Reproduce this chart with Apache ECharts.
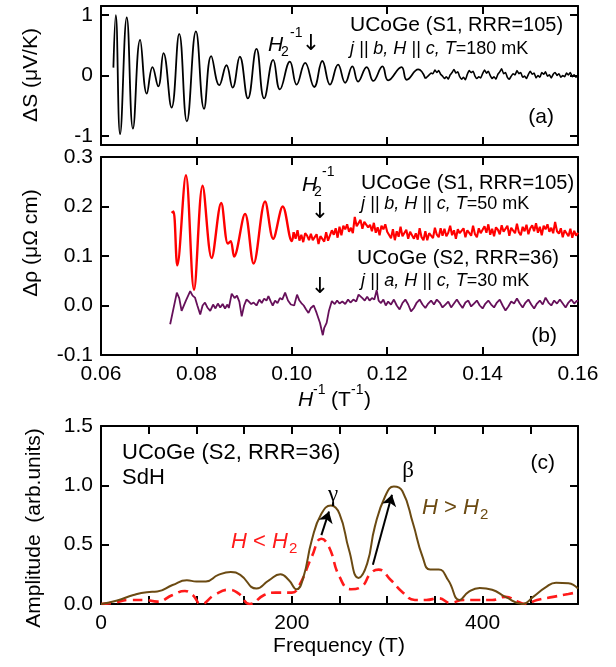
<!DOCTYPE html>
<html>
<head>
<meta charset="utf-8">
<script src="https://cdn.jsdelivr.net/npm/echarts@6/dist/echarts.min.js"></script>
<style>html,body{margin:0;padding:0;background:#fff}#c{width:616px;height:667px}</style>
</head>
<body>
<div id="c"></div>
<script>
// ---------- DATA ----------
// Panel (a): Seebeck oscillations, x = H^-1 (1/T), y = ΔS (μV/K)
const seebeckS1 = [[0.0626,0.13],[0.0631,1.00],[0.0640,-0.97],[0.0654,0.96],[0.0667,-0.88],[0.0682,0.59],[0.0696,-0.30],[0.0708,0.14],[0.0720,-0.18],[0.0731,0.37],[0.0748,-0.53],[0.0764,0.69],[0.0780,-0.76],[0.0799,0.73],[0.0816,-0.55],[0.0831,0.32],[0.0848,-0.16],[0.0863,0.17],[0.0876,-0.20],[0.0891,0.31],[0.0908,-0.38],[0.0926,0.44],[0.0942,-0.38],[0.0961,0.26],[0.0975,-0.23],[0.0996,0.23],[0.1010,-0.15],[0.1028,0.21],[0.1047,-0.19],[0.1064,0.24],[0.1080,-0.15],[0.1097,0.18],[0.1112,-0.12],[0.1127,0.15],[0.1139,-0.10],[0.1157,0.14],[0.1171,-0.09],[0.1190,0.15],[0.1202,-0.08],[0.1230,0.14],[0.1241,-0.07],[0.1265,0.10],[0.1280,-0.05]];
const seebeckS1Tail = [[0.1280,-0.05],[0.1284,-0.02],[0.1288,0.01],[0.1292,0.04],[0.1296,0.03],[0.1300,0.09],[0.1304,0.05],[0.1308,0.08],[0.1312,0.02],[0.1316,-0.01],[0.1320,-0.05],[0.1324,-0.02],[0.1328,-0.06],[0.1332,0.01],[0.1336,0.05],[0.1340,0.10],[0.1344,0.04],[0.1348,0.06],[0.1352,-0.02],[0.1356,-0.06],[0.1360,-0.03],[0.1364,-0.07],[0.1368,0.02],[0.1372,0.08],[0.1376,0.05],[0.1380,0.07],[0.1384,-0.01],[0.1388,-0.05],[0.1392,-0.02],[0.1396,-0.04],[0.1400,0.03],[0.1404,0.09],[0.1408,0.04],[0.1412,0.07],[0.1416,0.00],[0.1420,-0.05],[0.1424,-0.02],[0.1428,-0.06],[0.1432,0.02],[0.1436,0.06],[0.1440,0.11],[0.1444,0.03],[0.1448,0.05],[0.1452,-0.03],[0.1456,-0.06],[0.1460,-0.01],[0.1464,0.03],[0.1468,0.01],[0.1472,0.08],[0.1476,0.03],[0.1480,0.05],[0.1484,-0.03],[0.1488,-0.01],[0.1492,-0.05],[0.1496,0.02],[0.1500,0.07],[0.1504,0.02],[0.1508,0.04],[0.1512,-0.04],[0.1516,0.00],[0.1520,-0.03],[0.1524,0.05],[0.1528,0.02],[0.1532,0.06],[0.1536,-0.01],[0.1540,0.01],[0.1544,-0.04],[0.1548,0.02],[0.1552,0.05],[0.1556,0.00],[0.1560,0.03],[0.1564,-0.03],[0.1568,0.00],[0.1572,-0.02],[0.1576,0.04],[0.1580,0.01],[0.1584,0.05],[0.1588,-0.02],[0.1592,0.01],[0.1596,-0.03],[0.1600,0.01]];

// Panel (b): resistivity, x = H^-1 (1/T), y = Δρ (μΩ cm)
const rhoS1 = [[0.0748,0.187],[0.0752,0.190],[0.0760,0.081],[0.0778,0.263],[0.0795,0.032],[0.0813,0.242],[0.0832,0.096],[0.0852,0.207],[0.0866,0.125],[0.0872,0.130],[0.0879,0.099],[0.0902,0.185],[0.0920,0.085],[0.0944,0.210],[0.0961,0.135],[0.0981,0.200],[0.1000,0.130],[0.1004,0.148]];
const rhoS1Tail = [[0.1004,0.148],[0.1008,0.135],[0.1012,0.152],[0.1016,0.131],[0.1020,0.143],[0.1024,0.128],[0.1028,0.146],[0.1032,0.141],[0.1036,0.132],[0.1040,0.145],[0.1044,0.132],[0.1048,0.128],[0.1052,0.144],[0.1056,0.124],[0.1060,0.140],[0.1064,0.137],[0.1068,0.129],[0.1072,0.148],[0.1076,0.131],[0.1080,0.135],[0.1084,0.152],[0.1088,0.143],[0.1092,0.156],[0.1096,0.137],[0.1100,0.159],[0.1104,0.142],[0.1108,0.161],[0.1112,0.154],[0.1116,0.164],[0.1120,0.149],[0.1124,0.157],[0.1128,0.146],[0.1132,0.179],[0.1136,0.160],[0.1140,0.162],[0.1144,0.173],[0.1148,0.155],[0.1152,0.169],[0.1156,0.172],[0.1160,0.158],[0.1164,0.163],[0.1168,0.150],[0.1172,0.167],[0.1176,0.147],[0.1180,0.158],[0.1184,0.142],[0.1188,0.161],[0.1192,0.154],[0.1196,0.164],[0.1200,0.149],[0.1204,0.147],[0.1208,0.136],[0.1212,0.154],[0.1216,0.132],[0.1220,0.150],[0.1224,0.139],[0.1228,0.159],[0.1232,0.140],[0.1236,0.142],[0.1240,0.153],[0.1244,0.135],[0.1248,0.149],[0.1252,0.151],[0.1256,0.135],[0.1260,0.146],[0.1264,0.133],[0.1268,0.156],[0.1272,0.138],[0.1276,0.132],[0.1280,0.150],[0.1284,0.132],[0.1288,0.146],[0.1292,0.149],[0.1296,0.136],[0.1300,0.157],[0.1304,0.143],[0.1308,0.138],[0.1312,0.156],[0.1316,0.141],[0.1320,0.155],[0.1324,0.140],[0.1328,0.147],[0.1332,0.161],[0.1336,0.142],[0.1340,0.152],[0.1344,0.135],[0.1348,0.154],[0.1352,0.146],[0.1356,0.145],[0.1360,0.156],[0.1364,0.138],[0.1368,0.152],[0.1372,0.155],[0.1376,0.141],[0.1380,0.161],[0.1384,0.144],[0.1388,0.138],[0.1392,0.156],[0.1396,0.146],[0.1400,0.150],[0.1404,0.160],[0.1408,0.147],[0.1412,0.164],[0.1416,0.143],[0.1420,0.155],[0.1424,0.140],[0.1428,0.158],[0.1432,0.153],[0.1436,0.144],[0.1440,0.162],[0.1444,0.149],[0.1448,0.145],[0.1452,0.161],[0.1456,0.141],[0.1460,0.157],[0.1464,0.154],[0.1468,0.146],[0.1472,0.165],[0.1476,0.148],[0.1480,0.142],[0.1484,0.159],[0.1488,0.150],[0.1492,0.163],[0.1496,0.144],[0.1500,0.156],[0.1504,0.162],[0.1508,0.150],[0.1512,0.166],[0.1516,0.147],[0.1520,0.159],[0.1524,0.142],[0.1528,0.161],[0.1532,0.154],[0.1536,0.164],[0.1540,0.149],[0.1544,0.157],[0.1548,0.146],[0.1552,0.169],[0.1556,0.150],[0.1560,0.145],[0.1564,0.156],[0.1568,0.138],[0.1572,0.152],[0.1576,0.155],[0.1580,0.140],[0.1584,0.155],[0.1588,0.137],[0.1592,0.151],[0.1596,0.141],[0.1600,0.147]];

const rhoS2 = [[0.0745,-0.038],[0.0759,0.026],[0.0764,0.015],[0.0769,-0.011],[0.0778,0.010],[0.0787,0.029],[0.0792,0.020],[0.0797,0.016],[0.0802,0.000],[0.0808,-0.018],[0.0813,0.000],[0.0818,0.006],[0.0823,-0.004],[0.0829,-0.011],[0.0835,0.002],[0.0840,-0.006],[0.0845,0.004],[0.0850,-0.004],[0.0855,0.003],[0.0860,-0.006],[0.0865,0.002],[0.0868,-0.005],[0.0874,0.024],[0.0880,0.015],[0.0885,0.020],[0.0890,0.008],[0.0895,-0.022],[0.0900,0.000],[0.0905,0.012],[0.0910,0.008],[0.0915,0.003],[0.0920,0.006],[0.0926,0.000],[0.0932,0.012],[0.0937,0.005],[0.0942,0.014],[0.0947,0.010],[0.0951,0.019],[0.0956,0.008],[0.0960,0.000],[0.0965,0.010],[0.0970,0.005],[0.0975,0.015],[0.0980,0.012],[0.0986,0.026],[0.0992,0.010],[0.0998,0.002],[0.1005,0.000],[0.1011,0.022],[0.1016,0.010],[0.1020,0.005],[0.1025,0.000],[0.1030,-0.008],[0.1035,-0.015],[0.1040,-0.005],[0.1046,0.000],[0.1052,-0.015],[0.1059,-0.035],[0.1065,-0.060],[0.1068,-0.045],[0.1073,-0.035],[0.1078,-0.010],[0.1084,0.009],[0.1090,0.003],[0.1095,0.010],[0.1100,0.004],[0.1106,0.008],[0.1112,0.003],[0.1118,0.012],[0.1123,0.006],[0.1129,0.012],[0.1135,0.008],[0.1140,0.022],[0.1143,0.026],[0.1148,0.015],[0.1153,0.010],[0.1158,0.018],[0.1163,0.010],[0.1168,0.015],[0.1173,0.012],[0.1178,0.031],[0.1182,0.010],[0.1187,0.005],[0.1192,0.012],[0.1197,0.000],[0.1202,0.008],[0.1208,0.002],[0.1214,0.012],[0.1220,0.000],[0.1226,-0.008],[0.1232,0.005],[0.1238,0.012],[0.1244,0.002],[0.1250,-0.012],[0.1256,-0.005],[0.1262,0.006],[0.1268,0.012],[0.1274,0.002],[0.1280,-0.005],[0.1286,0.004],[0.1292,0.010],[0.1298,0.002],[0.1304,0.012],[0.1310,0.006],[0.1316,-0.004],[0.1322,0.002],[0.1328,0.008],[0.1334,-0.004],[0.1340,0.004],[0.1346,0.012],[0.1352,0.003],[0.1358,-0.005],[0.1364,0.006],[0.1370,0.010],[0.1376,-0.002],[0.1382,0.004],[0.1388,0.010],[0.1394,0.000],[0.1400,-0.006],[0.1406,0.004],[0.1412,0.010],[0.1418,0.002],[0.1424,-0.004],[0.1430,0.006],[0.1436,0.012],[0.1442,0.000],[0.1448,-0.010],[0.1454,-0.002],[0.1460,0.008],[0.1466,0.004],[0.1472,0.014],[0.1478,0.004],[0.1484,-0.004],[0.1490,0.006],[0.1496,0.012],[0.1502,0.002],[0.1508,-0.006],[0.1514,0.004],[0.1520,0.010],[0.1526,0.002],[0.1532,0.016],[0.1538,0.006],[0.1544,0.000],[0.1550,0.010],[0.1556,0.004],[0.1562,0.012],[0.1568,0.004],[0.1574,-0.004],[0.1580,0.006],[0.1586,0.012],[0.1592,0.004],[0.1598,0.010],[0.1600,0.008]];

// Panel (c): FFT amplitude, x = frequency (T), y = amplitude (arb. units)
const fftHigh = [[0,0.0],[17,0.03],[34,0.076],[48,0.10],[59,0.105],[75,0.16],[90,0.20],[100,0.19],[110,0.19],[123,0.245],[136,0.27],[146,0.245],[163,0.13],[176,0.20],[188,0.25],[197,0.20],[205,0.124],[212,0.22],[221,0.54],[231,0.76],[241,0.83],[250,0.76],[260,0.455],[270,0.22],[279,0.34],[287,0.65],[298,0.91],[307,0.99],[316,0.95],[327,0.68],[337,0.40],[345,0.29],[354,0.29],[364,0.20],[376,0.034],[385,0.10],[397,0.135],[410,0.12],[424,0.06],[442,0.0],[453,0.06],[466,0.14],[477,0.18],[490,0.175],[500,0.13]];
const fftLow = [[0,0.0],[13,0.01],[30,0.034],[46,0.034],[59,0.02],[75,0.076],[88,0.11],[96,0.076],[105,0.0],[119,0.076],[134,0.12],[144,0.09],[156,0.0],[171,0.076],[183,0.096],[200,0.096],[208,0.16],[221,0.40],[231,0.55],[239,0.48],[250,0.23],[262,0.124],[273,0.146],[283,0.26],[291,0.29],[304,0.20],[316,0.10],[329,0.034],[341,0.034],[354,0.048],[366,0.01],[380,0.034],[394,0.034],[410,0.034],[424,0.06],[437,0.02],[445,0.0],[457,0.034],[474,0.06],[490,0.084],[500,0.10]];
const shiftArrows = [[[231,0.58],[239,0.78]],[[285,0.33],[305,0.92]]];

// Tick values
const invHTicks = [0.06,0.08,0.10,0.12,0.14,0.16];
const seebeckTicks = [-1,0,1];
const rhoTicks = [-0.1,0.0,0.1,0.2,0.3];
const ampTicks = [0,0.5,1.0,1.5];
const freqTicks = [0,50,100,150,200,250,300,350,400,450,500];
const freqLabels = [0,200,400];

// ---------- CHART ----------
const FONT = '"Liberation Sans", Arial, sans-serif';
const ARROWFONT = '"DejaVu Sans", sans-serif';
const SERIF = '"Liberation Serif", "DejaVu Serif", serif';
const chart = echarts.init(document.getElementById('c'), null, {renderer:'canvas', width:616, height:667});

function xAx(grid, min, max, ticks, labels, pos, show, fmt){
  return {type:'value', gridIndex:grid, min, max, position:pos,
    axisLine:{show:true, onZero:false, lineStyle:{color:'#000', width:2}},
    axisTick:{show:true, inside:true, length:8, lineStyle:{color:'#000', width:2}, customValues:ticks},
    axisLabel:{show:show, customValues:labels, fontSize:21, color:'#000', fontFamily:FONT, margin:9, formatter:fmt},
    splitLine:{show:false}};
}
function yAx(grid, min, max, ticks, pos, show, fmt){
  return {type:'value', gridIndex:grid, min, max, position:pos,
    axisLine:{show:true, onZero:false, lineStyle:{color:'#000', width:2}},
    axisTick:{show:true, inside:true, length:8, lineStyle:{color:'#000', width:2}, customValues:ticks},
    axisLabel:{show:show, customValues:ticks, fontSize:21, color:'#000', fontFamily:FONT, margin:8, formatter:fmt},
    splitLine:{show:false}};
}
const f2 = v => v.toFixed(2), f1 = v => v.toFixed(1), f0 = v => String(Math.round(v));

function txt(x, y, text, size, opts){
  opts = opts || {};
  return {type:'text', x, y, rotation: opts.rot || 0, z:100,
    style:{text, fill: opts.color || '#000', fontSize:size, fontFamily: opts.family || FONT,
      fontStyle: opts.italic ? 'italic' : 'normal',
      textAlign: opts.align || 'left', align: opts.align || 'left',
      textVerticalAlign:'middle', verticalAlign:'middle', rich: opts.rich}};
}
const richIt = s => ({i:{fontStyle:'italic', fontSize:s, fontFamily:FONT, fill:'#000'}, n:{fontSize:s, fontFamily:FONT, fill:'#000'}});
const richU = {u:{fontSize:21, fontFamily:FONT, fill:'#000'}, p:{fontSize:20, fontFamily:FONT, fill:'#000'}};

const RED = '#ff0000', PURPLE = '#66105a', BROWN = '#6b4a12';

const option = {
  animation:false,
  backgroundColor:'#fff',
  grid:[
    {left:101, top:6, width:477, height:139},
    {left:101, top:157, width:477, height:198},
    {left:101, top:426, width:477, height:178}
  ],
  xAxis:[
    xAx(0,0.06,0.16,invHTicks,invHTicks,'bottom',false,f2),
    xAx(0,0.06,0.16,invHTicks,invHTicks,'top',false,f2),
    xAx(1,0.06,0.16,invHTicks,invHTicks,'bottom',true,f2),
    xAx(1,0.06,0.16,invHTicks,invHTicks,'top',false,f2),
    xAx(2,0,500,freqTicks,freqLabels,'bottom',true,f0),
    xAx(2,0,500,freqTicks,freqLabels,'top',false,f0)
  ],
  yAxis:[
    yAx(0,-1.15,1.15,seebeckTicks,'left',true,f0),
    yAx(0,-1.15,1.15,seebeckTicks,'right',false,f0),
    yAx(1,-0.1,0.3,rhoTicks,'left',true,f1),
    yAx(1,-0.1,0.3,rhoTicks,'right',false,f1),
    yAx(2,0,1.5,ampTicks,'left',true,f1),
    yAx(2,0,1.5,ampTicks,'right',false,f1)
  ],
  series:[
    {type:'line', xAxisIndex:0, yAxisIndex:0, data:seebeckS1, showSymbol:false, smooth:0.45,
     lineStyle:{color:'#000', width:1.8}, z:5},
    {type:'line', xAxisIndex:0, yAxisIndex:0, data:seebeckS1Tail, showSymbol:false, smooth:0.15,
     lineStyle:{color:'#000', width:1.6}, z:5},
    {type:'line', xAxisIndex:2, yAxisIndex:2, data:rhoS1, showSymbol:false, smooth:0.35,
     lineStyle:{color:RED, width:2.4}, z:5},
    {type:'line', xAxisIndex:2, yAxisIndex:2, data:rhoS1Tail, showSymbol:false, smooth:false,
     lineStyle:{color:RED, width:2.1}, z:5},
    {type:'line', xAxisIndex:2, yAxisIndex:2, data:rhoS2, showSymbol:false, smooth:false,
     lineStyle:{color:PURPLE, width:1.8}, z:4},
    {type:'line', xAxisIndex:4, yAxisIndex:4, data:fftHigh, showSymbol:false, smooth:0.5,
     lineStyle:{color:BROWN, width:2}, z:5},
    {type:'line', xAxisIndex:4, yAxisIndex:4, data:fftLow, showSymbol:false, smooth:0.5,
     lineStyle:{color:'#ff1a1a', width:2.6, type:[10,6]}, z:4},
    {type:'lines', coordinateSystem:'cartesian2d', xAxisIndex:4, yAxisIndex:4,
     data: shiftArrows.map(c => ({coords:c})), symbol:['none','arrow'], symbolSize:[1,11],
     lineStyle:{color:'#000', width:2, curveness:0, opacity:1}, z:6}
  ],
  graphic:[
    // axis titles
    txt(31, 75, 'ΔS (μV/K)', 21, {rot:Math.PI/2, align:'center'}),
    txt(31, 243, 'Δρ (μΩ cm)', 21, {rot:Math.PI/2, align:'center'}),
    txt(34, 528, 'Amplitude  (arb.units)', 21, {rot:Math.PI/2, align:'center'}),
    txt(298, 400, 'H', 21, {italic:true}),
    txt(313, 390, '-1', 14),
    txt(331, 400, '(T', 21),
    txt(351, 390, '-1', 14),
    txt(364, 400, ')', 21),
    txt(339, 646, 'Frequency (T)', 21, {align:'center'}),
    // panel (a)
    txt(350, 25, '{u|UCoGe} {p|(S1, RRR=105)}', 21, {rich:richU}),
    txt(350, 49, '{i|j || b, H || c, T}{n|=180 mK}', 18, {rich:richIt(18)}),
    txt(268, 45, 'H', 21, {italic:true}),
    txt(281, 52, '2', 14),
    txt(290, 33, '-1', 14),
    txt(311, 44, '↓', 22, {align:'center', family:ARROWFONT}),
    txt(554, 117, '(a)', 21, {align:'right'}),
    // panel (b)
    txt(302, 185, 'H', 21, {italic:true}),
    txt(314, 192, '2', 14),
    txt(322, 172, '-1', 14),
    txt(320, 212, '↓', 22, {align:'center', family:ARROWFONT}),
    txt(361, 183, '{u|UCoGe} {p|(S1, RRR=105)}', 21, {rich:richU}),
    txt(361, 204, '{i|j || b, H || c, T}{n|=50 mK}', 18, {rich:richIt(18)}),
    txt(357, 258, '{u|UCoGe} {p|(S2, RRR=36)}', 21, {rich:richU}),
    txt(361, 281, '{i|j || a, H || c, T}{n|=30 mK}', 18, {rich:richIt(18)}),
    txt(320, 287, '↓', 22, {align:'center', family:ARROWFONT}),
    txt(557, 336, '(b)', 21, {align:'right'}),
    // panel (c)
    txt(122, 453, 'UCoGe (S2, RRR=36)', 22),
    txt(122, 478, 'SdH', 22),
    txt(555, 463, '(c)', 21, {align:'right'}),
    txt(333, 495, 'γ', 23, {align:'center', family:SERIF}),
    txt(408, 471, 'β', 23, {align:'center', family:SERIF}),
    txt(422, 508, '{i|H} > {i|H}', 22, {color:BROWN, rich:{i:{fontStyle:'italic', fontSize:22, fontFamily:FONT, fill:BROWN}}}),
    txt(480, 515, '2', 15, {color:BROWN}),
    txt(231, 542, '{i|H} < {i|H}', 22, {color:'#ff1a1a', rich:{i:{fontStyle:'italic', fontSize:22, fontFamily:FONT, fill:'#ff1a1a'}}}),
    txt(289, 549, '2', 15, {color:'#ff1a1a'})
  ]
};
chart.setOption(option);
</script>
</body>
</html>
